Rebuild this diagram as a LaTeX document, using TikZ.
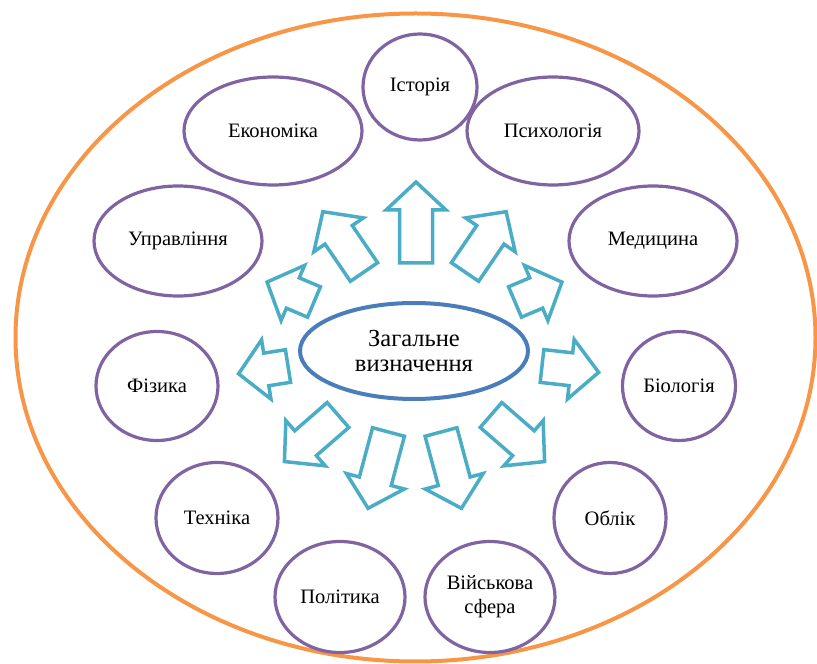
\documentclass[tikz,border=0pt]{standalone}
\usepackage{fontspec}
\setmainfont{LiberationSerif}[Extension=.ttf,UprightFont=*-Regular,BoldFont=*-Bold]
\usepackage{xcolor}
\usetikzlibrary{shapes.geometric}
\definecolor{orng}{HTML}{F79646}
\definecolor{purp}{HTML}{8064A2}
\definecolor{aqua}{HTML}{4BACC6}
\definecolor{navy}{HTML}{4A7EBB}

\begin{document}
\begin{tikzpicture}[x=1pt,y=1pt,
	oval/.style={ellipse,draw=purp,line width=3.2pt,inner sep=0pt,font=\fontsize{20.5}{24}\selectfont,align=center},
	hub/.style={ellipse,draw=navy,line width=4pt,inner sep=0pt,font=\fontsize{24.5}{25}\selectfont,align=center},
	blk/.style={draw=aqua,line width=3.5pt,line join=miter,fill=white}]
	\useasboundingbox (0,0) rectangle (817,664);
		% outer field
		\draw[orng,line width=4pt] (415.5,326.5) ellipse (400 and 324);
		% centre
		\node[hub,minimum width=228,minimum height=96] (hub) at (414,313) {Загальне\\визначення};
		% the spheres
		\node[oval,minimum width=114,minimum height=106] (ist) at (420,577) {Історія};
		\node[oval,minimum width=178,minimum height=108] (eko) at (273,533) {Економіка};
		\node[oval,minimum width=172,minimum height=108] (psy) at (553,533) {Психологія};
		\node[oval,minimum width=168,minimum height=110] (upr) at (178,423) {Управління};
		\node[oval,minimum width=168,minimum height=110] (med) at (653,423) {Медицина};
		\node[oval,minimum width=122,minimum height=109] (fiz) at (157,278) {Фізика};
		\node[oval,minimum width=113,minimum height=109] (bio) at (679,278) {Біологія};
		\node[oval,minimum width=122,minimum height=111] (teh) at (217,146) {Техніка};
		\node[oval,minimum width=112,minimum height=111] (obl) at (610,146) {Облік};
		\node[oval,minimum width=130,minimum height=111] (pol) at (340,67) {Політика};
		\node[oval,minimum width=130,minimum height=111] (vij) at (490,67) {Військова\\сфера};
		% block arrows (tail x / tail y / angle / length)
		\foreach \x/\y/\a/\l in {416/401/90/81, 364/392/124.3/73, 465/392/55.7/73,
			314/362/157/51, 515/362/23/51, 288/298/189/50, 542/298/353.6/57,
			338/249/221/71, 491/249/319/71, 388.5/232/255/79, 441/232/285/79}{
			\begin{scope}[shift={(\x,\y)},rotate=\a]
				\draw[blk] (0,-16.5) -- ({\l-28},-16.5) -- ({\l-28},-30) -- (\l,0)
					-- ({\l-28},30) -- ({\l-28},16.5) -- (0,16.5) -- cycle;
			\end{scope}
		}
	\end{tikzpicture}
\end{document}
